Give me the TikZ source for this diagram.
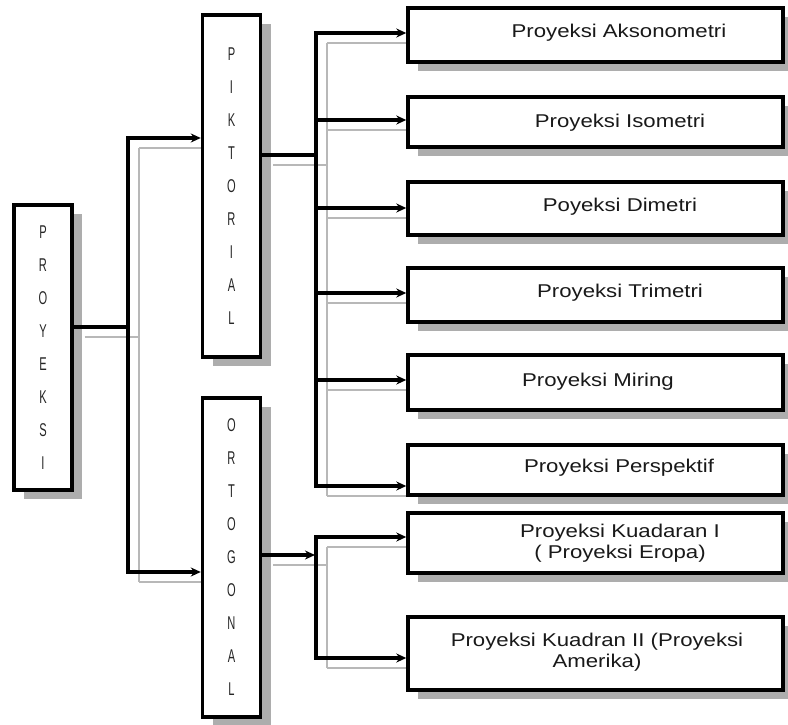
\documentclass[tikz,border=0pt]{standalone}
\usepackage{fontspec}
\setmainfont{Liberation Sans}
\newfontfamily\boxfont[FakeStretch=1.2]{Liberation Sans}
\newfontfamily\narrowfont[FakeStretch=0.6]{Liberation Sans}
\usetikzlibrary{arrows.meta,shadows}
\pgfdeclarelayer{bg}
\pgfsetlayers{bg,main}
\definecolor{shade}{gray}{0.68}
\definecolor{gline}{gray}{0.72}
\definecolor{ink}{gray}{0.15}
\tikzset{
  boxbase/.style={draw=black, line width=3.4pt, fill=white, inner sep=0pt,
    drop shadow={shadow xshift=10pt, shadow yshift=-9pt, fill=shade, opacity=1}},
  vbox/.style={boxbase, minimum width=58pt, align=center, text=ink,
    font=\narrowfont\fontsize{18.5}{33}\selectfont},
  hbox/.style={boxbase, minimum width=375pt},
  lbl/.style={align=center, text=black!90, font=\boxfont\fontsize{18.5}{20.5}\selectfont, inner sep=0pt},
  conn/.style={line width=3.1pt, line join=miter},
  arr/.style={conn, -{Stealth[length=10pt,width=9pt]}},
  gconn/.style={line width=2.2pt, draw=gline, line join=miter},
}
\begin{document}
\begin{tikzpicture}[x=1pt,y=-1pt]
\useasboundingbox (0,0) rectangle (788,725);
% vertical boxes
\node[vbox, minimum height=285pt] (proy) at (43,347.5) {P\\R\\O\\Y\\E\\K\\S\\I};
\node[vbox, minimum height=342pt] (pik) at (231.5,186) {P\\I\\K\\T\\O\\R\\I\\A\\L};
\node[vbox, minimum height=319pt] (ort) at (231.5,557.5) {O\\R\\T\\O\\G\\O\\N\\A\\L};
% right boxes
\node[hbox, minimum height=54pt] (r1) at (595.5,35) {};
\node[hbox, minimum height=50pt] (r2) at (595.5,122) {};
\node[hbox, minimum height=53pt] (r3) at (595.5,208.5) {};
\node[hbox, minimum height=54pt] (r4) at (595.5,295) {};
\node[hbox, minimum height=55pt] (r5) at (595.5,382.5) {};
\node[hbox, minimum height=50pt] (r6) at (595.5,470) {};
\node[hbox, minimum height=60pt] (r7) at (595.5,543) {};
\node[hbox, minimum height=73pt] (r8) at (595.5,653.5) {};
% labels
\node[lbl] (l1) at (619,33) {Proyeksi Aksonometri};
\node[lbl] (l2) at (620,123) {Proyeksi Isometri};
\node[lbl] (l3) at (620,207) {Poyeksi Dimetri};
\node[lbl] (l4) at (620,293) {Proyeksi Trimetri};
\node[lbl] (l5) at (598,382) {Proyeksi Miring};
\node[lbl] (l6) at (619,468) {Proyeksi Perspektif};
\node[lbl] (l7) at (620,543) {Proyeksi Kuadaran I\\( Proyeksi Eropa)};
\node[lbl] (l8) at (597,652) {Proyeksi Kuadran II (Proyeksi\\Amerika)};
% junction coordinates
\coordinate (j1) at (128,327);
\coordinate (tA) at (128,138);
\coordinate (tB) at (128,572);
\coordinate (j2) at (316,155);
\coordinate (p1) at (316,33);
\coordinate (p2) at (316,120);
\coordinate (p3) at (316,208);
\coordinate (p4) at (316,293);
\coordinate (p5) at (316,380);
\coordinate (p6) at (316,486);
\coordinate (j3) at (316,555);
\coordinate (q1) at (316,537);
\coordinate (q2) at (316,658);
% connector shadows
\begin{pgfonlayer}{bg}
\begin{scope}[transform canvas={xshift=11pt,yshift=-10pt}]
\draw[gconn] (proy.east |- j1) -- (j1);
\draw[gconn] (tA) -- (tB);
\draw[gconn] (tA) -- (pik.west |- tA);
\draw[gconn] (tB) -- (ort.west |- tB);
\draw[gconn] (pik.east |- j2) -- (j2);
\draw[gconn] (p1) -- (p6);
\foreach \p/\r in {p1/r1,p2/r2,p3/r3,p4/r4,p5/r5,p6/r6}
  \draw[gconn] (\p) -- (\r.west |- \p);
\draw[gconn] (ort.east |- j3) -- (j3);
\draw[gconn] (q1) -- (q2);
\draw[gconn] (q1) -- (r7.west |- q1);
\draw[gconn] (q2) -- (r8.west |- q2);
\end{scope}
\end{pgfonlayer}
% black connectors
\draw[conn] (proy.east |- j1) -- (j1);
\draw[arr] (j1) -- (tA) -- (pik.west |- tA);
\draw[arr] (j1) -- (tB) -- (ort.west |- tB);
\draw[conn] (pik.east |- j2) -- (j2);
\draw[arr] (j2) -- (p1) -- (r1.west |- p1);
\draw[arr] (p2) -- (r2.west |- p2);
\draw[arr] (p3) -- (r3.west |- p3);
\draw[arr] (p4) -- (r4.west |- p4);
\draw[arr] (p5) -- (r5.west |- p5);
\draw[arr] (j2) -- (p6) -- (r6.west |- p6);
\draw[arr] (ort.east |- j3) -- ([xshift=-1pt]j3);
\draw[arr] (j3) -- (q1) -- (r7.west |- q1);
\draw[arr] (j3) -- (q2) -- (r8.west |- q2);
\end{tikzpicture}
\end{document}
